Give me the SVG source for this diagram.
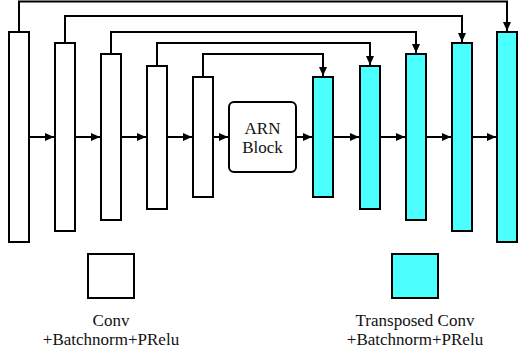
<svg xmlns="http://www.w3.org/2000/svg" width="518" height="353" viewBox="0 0 518 353">
<style>
.enc{fill:#ffffff;stroke:#000;stroke-width:2}
.dec{fill:#4cffff;stroke:#000;stroke-width:2}
.ln{fill:none;stroke:#000;stroke-width:2}
.t{font-family:"Liberation Serif","Times New Roman",serif;font-size:17.6px;fill:#111;text-anchor:middle}
.s{font-family:"Liberation Serif","Times New Roman",serif;font-size:17px;fill:#111;text-anchor:middle}
</style>
<defs>
<marker id="ah" markerUnits="userSpaceOnUse" markerWidth="9" markerHeight="8" refX="9" refY="4" orient="auto">
<path d="M0,0 L9,4 L0,8 z" fill="#000"/>
</marker>
</defs>
<rect width="518" height="353" fill="#fff"/>
<g id="connectors">
<path class="ln" d="M29,137 H54" marker-end="url(#ah)"/>
<path class="ln" d="M75,137 H100" marker-end="url(#ah)"/>
<path class="ln" d="M121,137 H146" marker-end="url(#ah)"/>
<path class="ln" d="M167,137 H192" marker-end="url(#ah)"/>
<path class="ln" d="M213,137 H228" marker-end="url(#ah)"/>
<path class="ln" d="M296,137 H312" marker-end="url(#ah)"/>
<path class="ln" d="M333,137 H359" marker-end="url(#ah)"/>
<path class="ln" d="M380,137 H405" marker-end="url(#ah)"/>
<path class="ln" d="M426,137 H451" marker-end="url(#ah)"/>
<path class="ln" d="M472,137 H496" marker-end="url(#ah)"/>
<path class="ln" d="M19,32 V1.5 H507 V31" marker-end="url(#ah)"/>
<path class="ln" d="M65,43 V16 H462 V42" marker-end="url(#ah)"/>
<path class="ln" d="M111,54 V32 H416 V53" marker-end="url(#ah)"/>
<path class="ln" d="M157,66 V43 H370 V65" marker-end="url(#ah)"/>
<path class="ln" d="M203,77 V54 H323 V76" marker-end="url(#ah)"/>
</g>
<g id="enc1"><rect class="enc" x="9" y="32" width="20" height="210"/></g>
<g id="enc2"><rect class="enc" x="55" y="43" width="20" height="188"/></g>
<g id="enc3"><rect class="enc" x="101" y="54" width="20" height="166"/></g>
<g id="enc4"><rect class="enc" x="147" y="66" width="20" height="143"/></g>
<g id="enc5"><rect class="enc" x="193" y="77" width="20" height="120"/></g>
<g id="arn"><rect class="enc" x="229" y="102" width="67" height="70" rx="5" ry="5"/>
<text class="s" x="262.5" y="133.5">ARN</text>
<text class="s" x="262.5" y="152.5">Block</text></g>
<g id="dec1"><rect class="dec" x="313" y="77" width="20" height="120"/></g>
<g id="dec2"><rect class="dec" x="360" y="66" width="20" height="143"/></g>
<g id="dec3"><rect class="dec" x="406" y="54" width="20" height="166"/></g>
<g id="dec4"><rect class="dec" x="452" y="43" width="20" height="188"/></g>
<g id="dec5"><rect class="dec" x="497" y="32" width="20" height="210"/></g>
<g id="legend-conv"><rect class="enc" x="88" y="254" width="46" height="44"/>
<text class="s" x="111" y="325.5">Conv</text>
<text class="s" x="111" y="344.5">+Batchnorm+PRelu</text></g>
<g id="legend-tconv"><rect class="dec" x="392" y="254" width="46" height="44"/>
<text class="s" x="415" y="325.5">Transposed Conv</text>
<text class="s" x="415" y="344.5">+Batchnorm+PRelu</text></g>
</svg>
